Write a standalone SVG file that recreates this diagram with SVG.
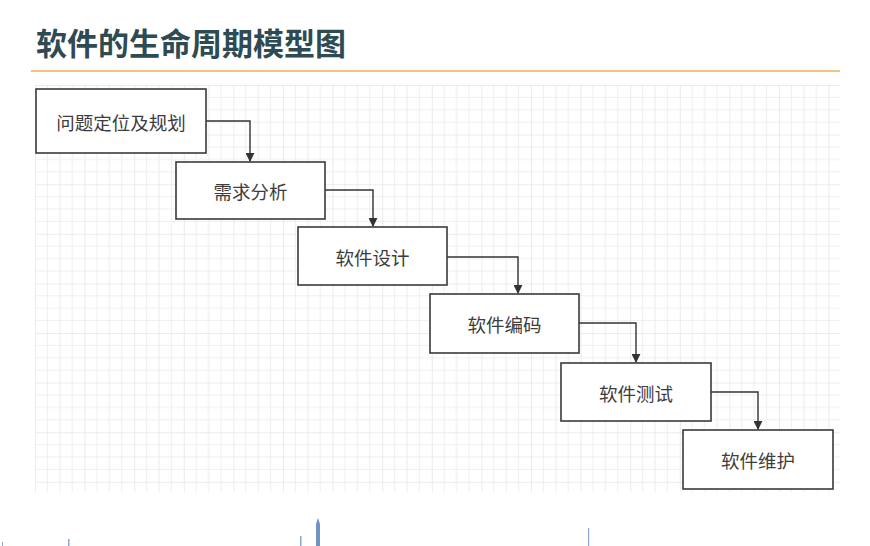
<svg xmlns="http://www.w3.org/2000/svg" width="870" height="546" viewBox="0 0 870 546">
<defs>
<pattern id="grid" x="35" y="85" width="49.6" height="49.6" patternUnits="userSpaceOnUse">
<path d="M12.4 0V49.6M24.8 0V49.6M37.2 0V49.6M0 12.4H49.6M0 24.8H49.6M0 37.2H49.6" stroke="#efefef" stroke-width="1.2" fill="none"/>
<path d="M0 0V49.6M0 0H49.6" stroke="#e6e6e6" stroke-width="1.6" fill="none"/>
</pattern>
<marker id="arr" viewBox="0 0 10 10" refX="9" refY="5" markerWidth="9" markerHeight="9" markerUnits="userSpaceOnUse" orient="auto">
<path d="M0 0L10 5L0 10Z" fill="#333"/>
</marker>
<style>
.box{fill:#fff;stroke:#3a3a3a;stroke-width:1.6}
.lbl{font-family:"Noto Sans CJK SC","Noto Sans",sans-serif;font-size:18.5px;fill:#3d3d3d;text-anchor:middle;dominant-baseline:central}
.con{fill:none;stroke:#333;stroke-width:1.4;marker-end:url(#arr)}
</style>
</defs>
<rect width="870" height="546" fill="#fff"/>
<text x="36" y="55" font-family="'Noto Sans CJK SC','Noto Sans',sans-serif" font-size="31" font-weight="bold" fill="#2e4a52">软件的生命周期模型图</text>
<line x1="31" y1="71" x2="840" y2="71" stroke="#f4c27e" stroke-width="2"/>
<rect x="35" y="85" width="805" height="407" fill="url(#grid)"/>
<g id="connectors">
<path class="con" d="M206 121H250V161"/>
<path class="con" d="M325 190H373V226"/>
<path class="con" d="M447 257H518V293"/>
<path class="con" d="M579 323H636V362"/>
<path class="con" d="M711 392H758V429"/>
</g>
<g id="n1"><rect class="box" x="36" y="89" width="170" height="64"/><text class="lbl" x="121" y="122">问题定位及规划</text></g>
<g id="n2"><rect class="box" x="176" y="162" width="149" height="57"/><text class="lbl" x="250.5" y="191">需求分析</text></g>
<g id="n3"><rect class="box" x="298" y="227" width="149" height="58"/><text class="lbl" x="372.5" y="257">软件设计</text></g>
<g id="n4"><rect class="box" x="430" y="294" width="149" height="59"/><text class="lbl" x="504.5" y="324">软件编码</text></g>
<g id="n5"><rect class="box" x="561" y="363" width="150" height="58"/><text class="lbl" x="636" y="393">软件测试</text></g>
<g id="n6"><rect class="box" x="683" y="430" width="150" height="59"/><text class="lbl" x="758" y="460">软件维护</text></g>
<g fill="#8aa6cf">
<path d="M316 546V524L318 518L320 524V546Z" fill="#6f93c6"/>
<rect x="300" y="536" width="1.5" height="10"/>
<rect x="68" y="539" width="1.5" height="7"/>
<rect x="588" y="528" width="1.2" height="18"/>
<rect x="2" y="542" width="1" height="4"/>
</g>
</svg>
